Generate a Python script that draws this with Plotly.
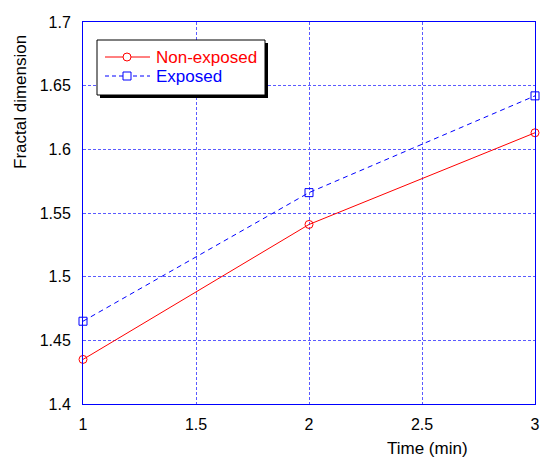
import plotly.graph_objects as go

time_min = [1, 2, 3]
non_exposed = [1.435, 1.541, 1.613]
exposed = [1.465, 1.566, 1.642]

x_ticks = [1, 1.5, 2, 2.5, 3]
x_tick_text = ["1", "1.5", "2", "2.5", "3"]
y_ticks = [1.4, 1.45, 1.5, 1.55, 1.6, 1.65, 1.7]
y_tick_text = ["1.4", "1.45", "1.5", "1.55", "1.6", "1.65", "1.7"]

series_names = ["Non-exposed", "Exposed"]
series_colors = ["#ff0000", "#0000ff"]

W, H = 540, 458
ml, mr, mt, mb = 83, 5, 22, 54
pw, ph = W - ml - mr, H - mt - mb
FONT = "Liberation Sans, Arial, sans-serif"


def px(x):
    return (x - ml) / pw


def py(y):
    return (H - mb - y) / ph


fig = go.Figure()
fig.add_trace(go.Scatter(
    x=time_min, y=non_exposed, mode="lines+markers", name=series_names[0],
    line=dict(color=series_colors[0], width=1),
    marker=dict(symbol="circle-open", size=8, color=series_colors[0], line=dict(width=1)),
    cliponaxis=False, showlegend=False,
))
fig.add_trace(go.Scatter(
    x=time_min, y=exposed, mode="lines+markers", name=series_names[1],
    line=dict(color=series_colors[1], width=1, dash="5px,4px"),
    marker=dict(symbol="square-open", size=8, color=series_colors[1], line=dict(width=1)),
    cliponaxis=False, showlegend=False,
))

axis_common = dict(
    showgrid=True, gridcolor="rgb(90,90,255)", griddash="3px,2px", gridwidth=1,
    showline=True, linecolor="#0000ff", linewidth=1, mirror=True,
    zeroline=False, ticks="", automargin=False,
    tickfont=dict(family=FONT, size=16, color="black"),
)

shapes = []
# legend shadow and box
shapes.append(dict(type="rect", xref="paper", yref="paper",
                   x0=px(100), x1=px(268), y0=py(98), y1=py(43),
                   fillcolor="black", line=dict(width=0), layer="above"))
shapes.append(dict(type="rect", xref="paper", yref="paper",
                   x0=px(97), x1=px(265), y0=py(95), y1=py(40),
                   fillcolor="white", line=dict(color="black", width=1), layer="above"))
# legend samples
leg_y = [57, 76]
dashes = ["solid", "4px,3px"]
for i in range(2):
    shapes.append(dict(type="line", xref="paper", yref="paper",
                       x0=px(105), x1=px(150), y0=py(leg_y[i]), y1=py(leg_y[i]),
                       line=dict(color=series_colors[i], width=1, dash=dashes[i]), layer="above"))
shapes.append(dict(type="circle", xref="paper", yref="paper",
                   x0=px(123), x1=px(131), y0=py(leg_y[0] + 4), y1=py(leg_y[0] - 4),
                   fillcolor="white", line=dict(color=series_colors[0], width=1), layer="above"))
shapes.append(dict(type="rect", xref="paper", yref="paper",
                   x0=px(123), x1=px(131), y0=py(leg_y[1] + 4), y1=py(leg_y[1] - 4),
                   fillcolor="white", line=dict(color=series_colors[1], width=1), layer="above"))

annotations = []
for i in range(2):
    annotations.append(dict(text=series_names[i], xref="paper", yref="paper",
                            x=px(154), y=py(leg_y[i]), xanchor="left", yanchor="middle",
                            showarrow=False,
                            font=dict(family=FONT, size=17, color=series_colors[i])))
annotations.append(dict(text="Time (min)", xref="paper", yref="paper", x=px(427), y=py(448),
                        xanchor="center", yanchor="middle", showarrow=False,
                        font=dict(family=FONT, size=17, color="black")))
annotations.append(dict(text="Fractal dimension", xref="paper", yref="paper", x=px(20), y=py(102),
                        xanchor="center", yanchor="middle", showarrow=False, textangle=-90,
                        font=dict(family=FONT, size=17, color="black")))

fig.update_layout(
    width=W, height=H,
    margin=dict(l=ml, r=mr, t=mt, b=mb, autoexpand=False),
    plot_bgcolor="white", paper_bgcolor="white",
    xaxis=dict(range=[1, 3], tickvals=x_ticks, ticktext=x_tick_text, ticklabelstandoff=6, **axis_common),
    yaxis=dict(range=[1.4, 1.7], tickvals=y_ticks, ticktext=y_tick_text, ticklabelstandoff=8, **axis_common),
    showlegend=False,
    shapes=shapes,
    annotations=annotations,
)

fig.write_html(
    "out.html",
    config={"displayModeBar": False},
    post_script="document.body.style.margin='0';document.body.style.overflow='hidden';"
                "document.documentElement.style.overflow='hidden';",
)
